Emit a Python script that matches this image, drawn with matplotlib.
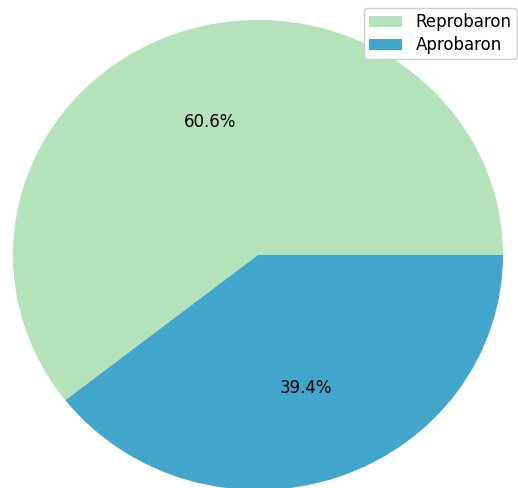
import matplotlib
matplotlib.use("Agg")
import matplotlib.pyplot as plt

labels = ["Reprobaron", "Aprobaron"]
values = [60.6, 39.4]
colors = ["#b4e2ba", "#42a5cc"]

fig = plt.figure(figsize=(5.18, 4.88), dpi=100)
ax = fig.add_axes([13/518, -2/488, 490/518, 470/488])
wedges, texts, autotexts = ax.pie(values, colors=colors, autopct="%1.1f%%",
                                  startangle=0, textprops={"fontsize": 12})
ax.set_aspect("auto")
ax.set_xlim(-1, 1)
ax.set_ylim(-1, 1)
fig.legend(wedges, labels, loc="upper right", bbox_to_anchor=(1.004, 0.99),
           fontsize=12, framealpha=1, borderaxespad=0.2,
           labelspacing=0.3, borderpad=0.3)
fig.savefig("out.png", dpi=100)
